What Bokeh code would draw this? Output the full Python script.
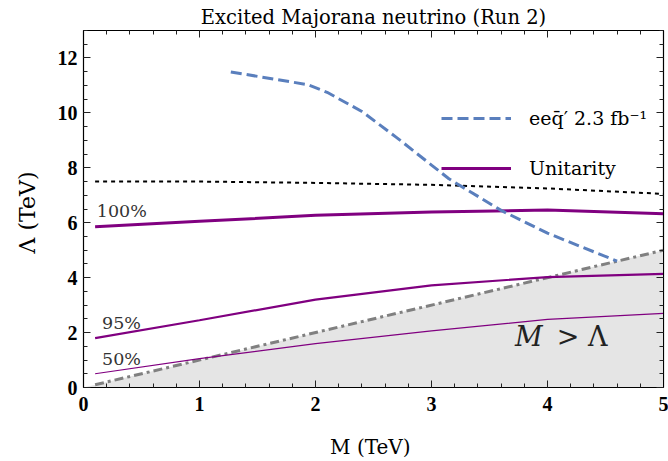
from bokeh.plotting import figure
from bokeh.models import Range1d, LinearAxis, SingleIntervalTicker, Legend, LegendItem, CustomJSTickFormatter
from bokeh.core.properties import value
from bokeh.embed import file_html
from bokeh.resources import INLINE

# ---- data ----
m_grid = [0.1, 1, 2, 3, 4, 5]
unit_100 = [5.85, 6.05, 6.27, 6.39, 6.46, 6.33]
unit_95 = [1.8, 2.45, 3.2, 3.72, 4.02, 4.14]
unit_50 = [0.5, 1.05, 1.6, 2.06, 2.48, 2.7]
dotted_lambda = [7.5, 7.5, 7.45, 7.38, 7.25, 7.05]

eeqq_m = [1.27, 1.93, 2.1, 2.4, 2.7, 3.0, 3.15, 3.6, 4.0, 4.6]
eeqq_lambda = [11.49, 11.03, 10.75, 10.05, 9.1, 8.1, 7.6, 6.45, 5.62, 4.6]

diag_fill_m = [0, 5]
diag_fill_zero = [0, 0]
diag_line_m = [0.1, 5]

pct_labels = ["100%", "95%", "50%"]
pct_x = [0.115, 0.16, 0.16]
pct_y = [6.42, 2.36, 1.02]

region_m_x = [3.72]
region_rest_x = [4.08]
region_y = [1.85]

legend_labels = ["eeq\u0304\u2032 2.3 fb\u207b\u00b9", "Unitarity"]

SERIF = "DejaVu Serif"

p = figure(width=668, height=461, x_range=Range1d(0, 5), y_range=Range1d(0, 13),
           output_backend="svg", toolbar_location=None,
           min_border_left=83, min_border_right=5, min_border_top=30, min_border_bottom=73,
           title="Excited Majorana neutrino (Run 2)")
p.title.text_font = SERIF
p.title.text_font_size = "19.5px"
p.title.text_font_style = "normal"
p.title.text_color = "black"
p.title.align = "center"
p.title.standoff = 3
p.xgrid.visible = False
p.ygrid.visible = False
p.outline_line_color = "black"
p.outline_line_width = 1.2
p.background_fill_color = "white"
p.border_fill_color = "white"

def style_axis(ax, labels=True):
    ax.major_tick_in = 7
    ax.major_tick_out = 0
    ax.minor_tick_in = 4
    ax.minor_tick_out = 0
    ax.axis_line_color = "black"
    ax.major_tick_line_color = "#222222"
    ax.minor_tick_line_color = "#222222"
    if labels:
        ax.major_label_text_font = "Liberation Serif"
        ax.major_label_text_font_style = "bold"
        ax.major_label_text_font_size = "20px"
        ax.major_label_text_color = "black"
        ax.axis_label_text_font = SERIF
        ax.axis_label_text_font_style = "normal"
        ax.axis_label_text_font_size = "20px"
        ax.axis_label_text_color = "black"
    else:
        ax.formatter = CustomJSTickFormatter(code="return '';")
        ax.major_label_standoff = 0

xa = p.xaxis[0]
xa.ticker = SingleIntervalTicker(interval=1, num_minor_ticks=5)
style_axis(xa)
xa.axis_label = "M  (TeV)"
xa.major_label_standoff = 9
xa.axis_label_standoff = 21

ya = p.yaxis[0]
ya.ticker = SingleIntervalTicker(interval=2, num_minor_ticks=4)
style_axis(ya)
ya.axis_label = "\u039b  (TeV)"
ya.axis_label_text_font_size = "22px"
ya.major_label_standoff = 6
ya.axis_label_standoff = 15

top = LinearAxis(ticker=SingleIntervalTicker(interval=1, num_minor_ticks=5))
style_axis(top, labels=False)
p.add_layout(top, "above")
right = LinearAxis(ticker=SingleIntervalTicker(interval=2, num_minor_ticks=4))
style_axis(right, labels=False)
p.add_layout(right, "right")

# excluded region M > Lambda
p.varea(x=diag_fill_m, y1=diag_fill_zero, y2=diag_fill_m, fill_color="#e5e5e5")
p.line(diag_line_m, diag_line_m, line_color="#808080", line_width=3, line_dash="9 4 3 4")

# dotted line
p.line(m_grid, dotted_lambda, line_color="black", line_width=2, line_dash="4 4")

# unitarity lines
r100 = p.line(m_grid, unit_100, line_color="#800080", line_width=3)
p.line(m_grid, unit_95, line_color="#800080", line_width=2.2)
p.line(m_grid, unit_50, line_color="#800080", line_width=1.2)

# eeqq' limit
rb = p.line(eeqq_m, eeqq_lambda, line_color="#5a7fbd", line_width=3, line_dash="11 5")

p.text(x=pct_x, y=pct_y, text=pct_labels, text_font=value(SERIF), text_font_size="17.5px",
       text_color="#333333", text_baseline="middle", text_align="left")
p.text(x=region_m_x, y=region_y, text=["M"], text_font=value(SERIF), text_font_style="italic",
       text_font_size="27px", text_color="#222222", text_baseline="middle", text_align="left")
p.text(x=region_rest_x, y=region_y, text=["> \u039b"], text_font=value(SERIF),
       text_font_size="27px", text_color="#222222", text_baseline="middle", text_align="left")

legend = Legend(items=[LegendItem(label=legend_labels[0], renderers=[rb]),
                       LegendItem(label=legend_labels[1], renderers=[r100])],
                location=(358, 208), glyph_width=70, glyph_height=22, label_height=22,
                label_standoff=18, spacing=28, padding=0, margin=0,
                border_line_color=None, background_fill_alpha=0,
                label_text_font=SERIF, label_text_font_size="19px", label_text_color="black")
p.add_layout(legend)

open("out.html", "w").write(file_html(p, INLINE))
